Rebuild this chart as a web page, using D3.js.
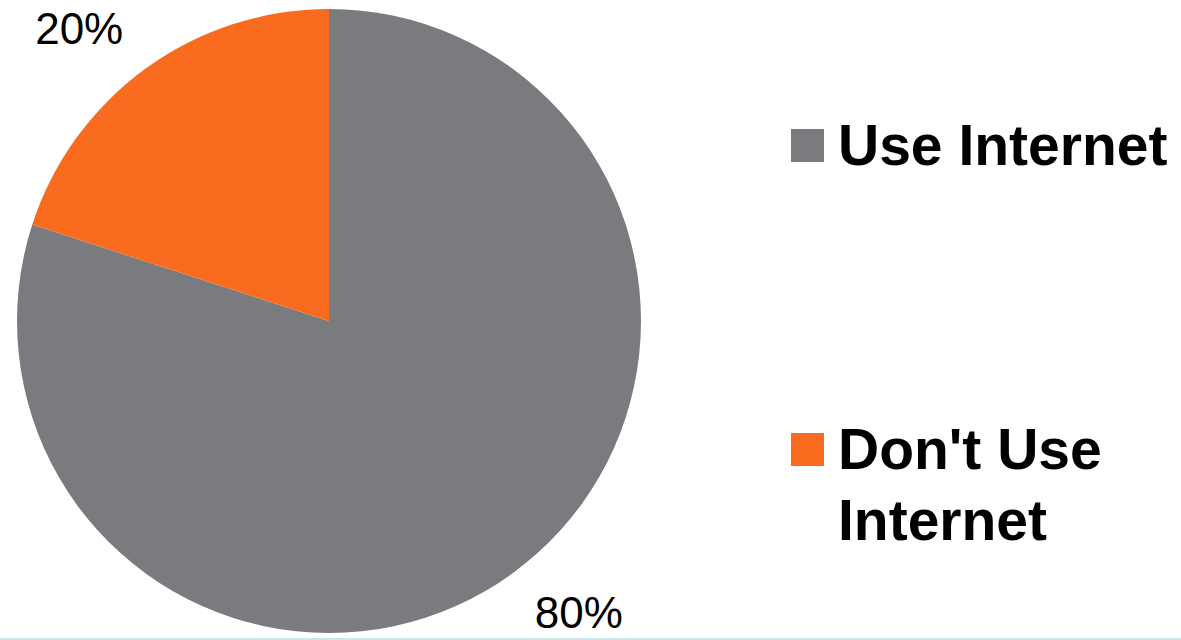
<!DOCTYPE html>
<html>
<head>
<meta charset="utf-8">
<script src="https://cdn.jsdelivr.net/npm/d3@7"></script>
<style>
  body { margin: 0; background: #fff; }
  svg { display: block; }
</style>
</head>
<body>
<div id="chart"></div>
<script>
// data
const categories = ["Use Internet", "Don't Use Internet"];
const values = [80, 20];
const labels = ["80%", "20%"];
const legendLines = [["Use Internet"], ["Don't Use", "Internet"]];
const colors = ["#7a7b7f", "#f96c1f"];

const W = 1181, H = 640;
const cx = 329, cy = 321, radius = 312;

const svg = d3.select("#chart")
    .append("svg")
    .attr("width", W)
    .attr("height", H);

// thin line along the bottom
svg.append("rect")
    .attr("x", 0)
    .attr("y", 638)
    .attr("width", W)
    .attr("height", 2)
    .attr("fill", "#cbe7ec");

const data = categories.map((c, i) => ({ category: c, value: values[i], label: labels[i] }));

const color = d3.scaleOrdinal()
    .domain(categories)
    .range(colors);

// first slice starts at 12 o'clock and runs clockwise
const pie = d3.pie()
    .value(d => d.value)
    .sort(null);

const arc = d3.arc()
    .innerRadius(0)
    .outerRadius(radius);

const labelArc = d3.arc()
    .innerRadius(425)
    .outerRadius(425);

const g = svg.append("g")
    .attr("transform", `translate(${cx},${cy})`);

const arcs = pie(data);

g.selectAll("path.slice")
    .data(arcs)
    .enter()
    .append("path")
    .attr("class", "slice")
    .attr("d", arc)
    .attr("fill", d => color(d.data.category));

// percentage labels, pulled back into the frame
g.selectAll("text.pct")
    .data(arcs)
    .enter()
    .append("text")
    .attr("class", "pct")
    .attr("x", d => labelArc.centroid(d)[0])
    .attr("y", d => Math.max(44 - cy, Math.min(628 - cy, labelArc.centroid(d)[1])))
    .attr("text-anchor", "middle")
    .style("font-family", "'Liberation Sans', Arial, sans-serif")
    .style("font-size", "44px")
    .style("fill", "#000")
    .text(d => d.data.label);

// legend
const legendY = [129, 433];
const legend = svg.selectAll(".legend")
    .data(data)
    .enter()
    .append("g")
    .attr("class", "legend")
    .attr("transform", (d, i) => `translate(791, ${legendY[i]})`);

legend.append("rect")
    .attr("width", 33)
    .attr("height", 33)
    .attr("fill", d => color(d.category));

legend.append("text")
    .attr("x", 47)
    .attr("y", 36)
    .style("font-family", "'Liberation Sans', Arial, sans-serif")
    .style("font-weight", "bold")
    .style("font-size", "57px")
    .style("fill", "#000")
    .selectAll("tspan")
    .data((d, i) => legendLines[i])
    .enter()
    .append("tspan")
    .attr("x", 47)
    .attr("dy", (d, i) => i === 0 ? 0 : 71)
    .text(d => d);
</script>
</body>
</html>
